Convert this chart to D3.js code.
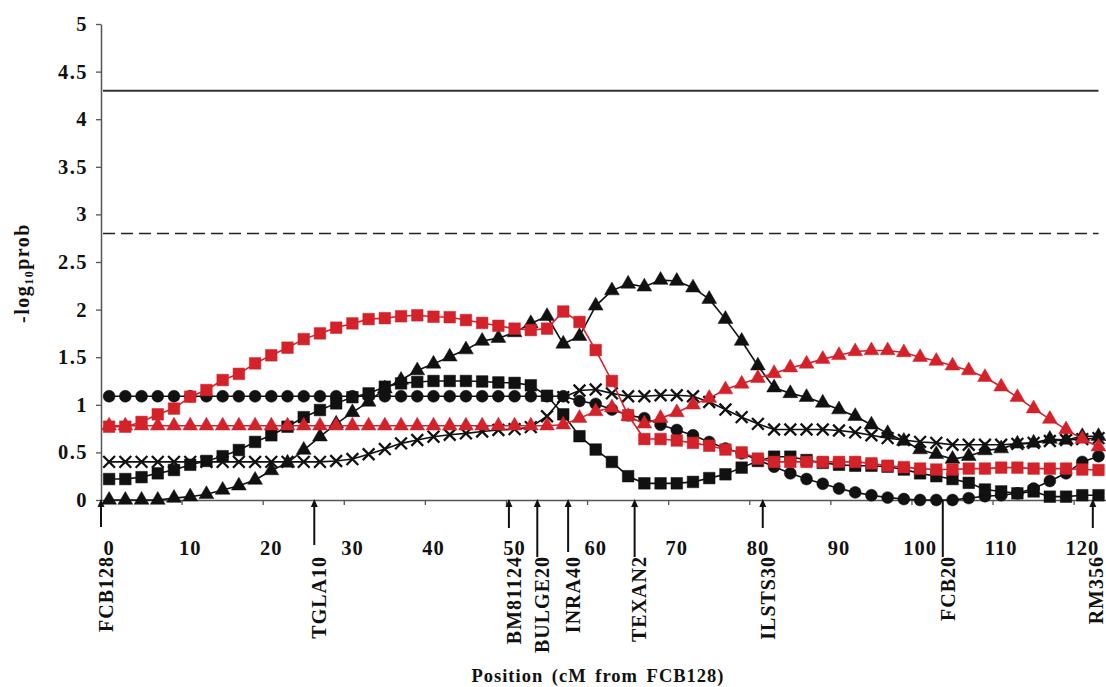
<!DOCTYPE html>
<html>
<head>
<meta charset="utf-8">
<script src="https://cdn.jsdelivr.net/npm/d3@7"></script>
<style>
  body { margin: 0; background: #fff; }
  svg { display: block; }
  text { font-family: "Liberation Serif", "Times New Roman", serif; font-weight: bold; fill: #111; }
</style>
</head>
<body>
<svg id="chart" width="1106" height="687"></svg>
<script>
// Map positions (cM from FCB128), one test every 2 cM
const positions = [0,2,4,6,8,10,12,14,16,18,20,22,24,26,28,30,32,34,36,38,40,42,44,46,48,50,52,54,56,58,
  60,62,64,66,68,70,72,74,76,78,80,82,84,86,88,90,92,94,96,98,100,102,104,106,108,110,112,114,116,118,120,122];

const xTickPositions = [0,10,20,30,40,50,60,70,80,90,100,110,120];
const xTickLabels = ["0","10","20","30","40","50","60","70","80","90","100","110","120"];
const yTicks = [0,0.5,1,1.5,2,2.5,3,3.5,4,4.5,5];
const yTickLabels = ["0","0.5","1","1.5","2","2.5","3","3.5","4","4.5","5"];

// -log10 probability profiles
const blackCircles = [1.09,1.09,1.09,1.09,1.09,1.09,1.09,1.09,1.09,1.09,1.09,1.09,1.09,1.09,1.09,1.09,
  1.09,1.09,1.09,1.09,1.09,1.09,1.09,1.09,1.09,1.09,1.09,1.09,1.09,1.04,1.01,0.95,0.89,0.86,0.79,0.735,
  0.68,0.61,0.54,0.49,0.42,0.35,0.28,0.22,0.17,0.12,0.08,0.05,0.025,0.01,0.0,0.0,0.0,0.02,0.04,0.05,
  0.07,0.12,0.2,0.28,0.4,0.46];
const redTriangles = [0.78,0.78,0.78,0.78,0.78,0.78,0.78,0.78,0.78,0.78,0.78,0.78,0.78,0.78,0.78,0.78,
  0.78,0.78,0.78,0.78,0.78,0.78,0.78,0.78,0.78,0.78,0.78,0.78,0.79,0.86,0.93,0.97,0.88,0.80,0.86,0.92,
  1.0,1.07,1.16,1.22,1.28,1.33,1.39,1.43,1.48,1.52,1.56,1.57,1.57,1.55,1.5,1.46,1.41,1.36,1.29,1.19,
  1.08,0.96,0.85,0.74,0.64,0.56];
const crosses = [0.4,0.4,0.4,0.4,0.4,0.4,0.4,0.4,0.4,0.4,0.4,0.4,0.4,0.4,0.41,0.43,0.48,0.535,0.595,
  0.63,0.665,0.685,0.7,0.72,0.735,0.745,0.765,0.88,1.08,1.15,1.16,1.12,1.09,1.09,1.1,1.1,1.09,1.03,
  0.95,0.87,0.8,0.74,0.74,0.74,0.74,0.73,0.71,0.68,0.65,0.63,0.61,0.6,0.58,0.58,0.58,0.58,0.59,0.6,
  0.62,0.63,0.64,0.65];
const blackSquares = [0.22,0.22,0.24,0.28,0.315,0.37,0.41,0.46,0.525,0.61,0.68,0.77,0.87,0.945,1.015,
  1.08,1.12,1.19,1.225,1.24,1.25,1.25,1.25,1.245,1.235,1.23,1.205,1.095,0.9,0.67,0.53,0.4,0.25,0.175,
  0.175,0.175,0.19,0.23,0.27,0.34,0.41,0.455,0.455,0.42,0.39,0.37,0.36,0.36,0.35,0.32,0.28,0.25,0.22,
  0.18,0.11,0.09,0.07,0.09,0.035,0.035,0.05,0.05];
const blackTriangles = [0,0,0,0,0.02,0.035,0.06,0.105,0.15,0.21,0.31,0.39,0.525,0.665,0.8,0.92,1.03,
  1.17,1.26,1.36,1.43,1.505,1.58,1.67,1.7,1.76,1.855,1.93,1.64,1.72,2.04,2.2,2.27,2.24,2.31,2.3,2.23,
  2.11,1.9,1.67,1.41,1.18,1.12,1.08,1.02,0.95,0.88,0.79,0.7,0.62,0.53,0.48,0.43,0.46,0.52,0.54,0.59,
  0.6,0.64,0.63,0.67,0.67];
const redSquares = [0.77,0.77,0.82,0.9,0.96,1.085,1.155,1.26,1.325,1.435,1.52,1.6,1.69,1.75,1.81,1.855,
  1.9,1.91,1.93,1.94,1.925,1.92,1.89,1.86,1.83,1.8,1.785,1.8,1.98,1.87,1.575,1.25,0.89,0.64,0.64,0.625,
  0.6,0.57,0.53,0.5,0.435,0.4,0.4,0.4,0.4,0.4,0.4,0.385,0.36,0.345,0.33,0.32,0.32,0.33,0.33,0.34,0.34,
  0.33,0.33,0.33,0.32,0.315];

// Significance thresholds
const thresholdChromosome = 4.3;
const thresholdSuggestive = 2.8;

// Microsatellite markers on the linkage map
const markerNames = ["FCB128","TGLA10","BM81124","BULGE20","INRA40","TEXAN2","ILSTS30","FCB20","RM356"];
const markerPositions = [0,26.3,50.3,53.8,57.6,65.8,81.6,103.8,122.3];

const RED = "#d3222a", BLACK = "#111";
const series = [
  { values: blackCircles,   color: BLACK, symbol: d3.symbolCircle,   size: 112 },
  { values: blackSquares,   color: BLACK, symbol: d3.symbolSquare,   size: 135 },
  { values: crosses,        color: BLACK, symbol: d3.symbolTimes,    size: 92, stroked: true },
  { values: blackTriangles, color: BLACK, symbol: d3.symbolTriangle, size: 95 },
  { values: redTriangles,   color: RED,   symbol: d3.symbolTriangle, size: 95 },
  { values: redSquares,     color: RED,   symbol: d3.symbolSquare,   size: 135 }
];

const svg = d3.select("#chart");
const plotLeft = 101, plotRight = 1106.6, plotBottom = 500, plotTop = 24;

const x = d3.scaleBand().domain(positions).range([plotLeft, plotRight]).paddingInner(0).paddingOuter(0);
const bw = x.bandwidth();
const cx = p => x(p) + bw / 2;
const xMap = d3.scaleLinear().domain([0, 124]).range([plotLeft, plotRight]);
const y = d3.scaleLinear().domain([0, 5]).range([plotBottom, plotTop]);

// Y axis
const yAxis = d3.axisLeft(y).tickValues(yTicks).tickFormat((d, i) => yTickLabels[i])
  .tickSize(5).tickSizeOuter(0).tickPadding(8);
const gy = svg.append("g").attr("transform", `translate(${plotLeft},0)`).call(yAxis);
gy.attr("font-family", null).attr("font-size", null);
gy.select(".domain").attr("stroke", "#555").attr("stroke-width", 1.5);
gy.selectAll(".tick line").attr("stroke", "#555").attr("stroke-width", 1.3);
gy.selectAll(".tick text").attr("font-size", 20.5).attr("letter-spacing", "1.5px").attr("fill", "#111");

// X axis line, ticks between categories, labels on categories
svg.append("line").attr("x1", plotLeft).attr("x2", plotRight)
  .attr("y1", plotBottom + 0.5).attr("y2", plotBottom + 0.5)
  .attr("stroke", "#555").attr("stroke-width", 1.5);
svg.append("g").selectAll("line").data(xTickPositions.filter(p => p > 0)).join("line")
  .attr("x1", d => x(d)).attr("x2", d => x(d)).attr("y1", plotBottom).attr("y2", plotBottom + 5)
  .attr("stroke", "#555").attr("stroke-width", 1.3);
svg.append("g").selectAll("text").data(xTickPositions).join("text")
  .attr("x", d => cx(d)).attr("y", 555).attr("text-anchor", "middle")
  .attr("font-size", 20.5).attr("letter-spacing", "1px")
  .text((d, i) => xTickLabels[i]);

// Threshold lines
const lineX1 = x(positions[0]) + 2, lineX2 = cx(positions[positions.length - 1]);
svg.append("line").attr("x1", lineX1).attr("x2", lineX2)
  .attr("y1", y(thresholdChromosome)).attr("y2", y(thresholdChromosome))
  .attr("stroke", "#333").attr("stroke-width", 2);
svg.append("line").attr("x1", lineX1).attr("x2", lineX2)
  .attr("y1", y(thresholdSuggestive)).attr("y2", y(thresholdSuggestive))
  .attr("stroke", "#222").attr("stroke-width", 1.6).attr("stroke-dasharray", "12,6");

// Profiles
const line = d3.line().x((d, i) => cx(positions[i])).y(d => y(d));
series.forEach(s => {
  const g = svg.append("g");
  g.append("path").datum(s.values).attr("d", line)
    .attr("fill", "none").attr("stroke", s.color).attr("stroke-width", 1.6);
  g.selectAll("path.pt").data(s.values).join("path").attr("class", "pt")
    .attr("transform", (d, i) => `translate(${cx(positions[i])},${y(d)})`)
    .attr("d", d3.symbol(s.symbol, s.size))
    .attr("fill", s.stroked ? "none" : s.color)
    .attr("stroke", s.color).attr("stroke-width", s.stroked ? 2.3 : 0.5);
});

// Marker leaders and names
const leaderLength = { FCB128: 27, TGLA10: 45, BM81124: 28, BULGE20: 57, INRA40: 52,
  TEXAN2: 57, ILSTS30: 28, FCB20: 57, RM356: 28 };
const gm = svg.append("g");
markerNames.forEach((name, i) => {
  const mx = xMap(markerPositions[i]);
  const hasHead = name !== "FCB20";
  gm.append("line").attr("x1", mx).attr("x2", mx)
    .attr("y1", hasHead ? plotBottom + 3 : plotBottom).attr("y2", plotBottom + leaderLength[name])
    .attr("stroke", "#111").attr("stroke-width", 2);
  if (hasHead) {
    gm.append("path")
      .attr("d", `M${mx},${plotBottom - 1}L${mx - 3.5},${plotBottom + 7}L${mx + 3.5},${plotBottom + 7}Z`)
      .attr("fill", "#111");
  }
  const lx = Math.min(mx + 5, 1096);
  gm.append("text").attr("transform", `translate(${lx},556) rotate(-90)`)
    .attr("dy", "0.34em").attr("text-anchor", "end")
    .attr("font-size", 20).attr("letter-spacing", "1px").text(name);
});

// Axis titles
const yt = svg.append("text").attr("transform", "translate(29,273) rotate(-90)")
  .attr("text-anchor", "middle").attr("font-size", 20).attr("letter-spacing", "1.5px");
yt.append("tspan").text("-log");
yt.append("tspan").attr("font-size", 12).attr("dy", "0.3em").text("10");
yt.append("tspan").attr("dy", "-0.18em").text("prob");

svg.append("text").attr("x", 598).attr("y", 682).attr("text-anchor", "middle")
  .attr("font-size", 18.5).attr("letter-spacing", "1px").attr("word-spacing", "3px")
  .text("Position (cM from FCB128)");
</script>
</body>
</html>
